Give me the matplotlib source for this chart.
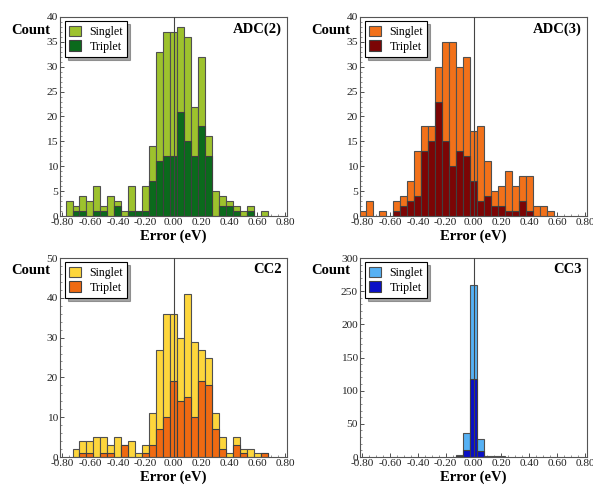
import numpy as np
import matplotlib
matplotlib.use("Agg")
import matplotlib.pyplot as plt
from matplotlib.ticker import MultipleLocator

plt.rcParams['font.family'] = ['Liberation Serif', 'DejaVu Serif']
plt.rcParams['axes.unicode_minus'] = False

# bin centres (eV), width 0.05
bin_centers = np.round(np.arange(-16, 17) * 0.05, 2)
x_ticks = [-0.80, -0.60, -0.40, -0.20, 0.00, 0.20, 0.40, 0.60, 0.80]

adc2_singlet = [0, 3, 2, 4, 3, 6, 2, 4, 3, 1, 6, 1, 6, 14, 33, 37, 37, 38, 36, 22, 32, 16, 5, 4, 3, 2, 1, 2, 0, 1, 0, 0, 0]
adc2_triplet = [0, 0, 1, 1, 0, 1, 1, 0, 2, 0, 1, 1, 1, 7, 11, 12, 12, 21, 15, 12, 18, 12, 0, 2, 2, 1, 0, 1, 0, 0, 0, 0, 0]

adc3_singlet = [1, 3, 0, 1, 0, 3, 4, 7, 13, 18, 18, 30, 35, 35, 30, 32, 17, 18, 11, 5, 6, 9, 6, 8, 8, 2, 2, 1, 0, 0, 0, 0, 0]
adc3_triplet = [0, 0, 0, 0, 0, 1, 2, 3, 4, 13, 15, 23, 15, 10, 13, 12, 7, 3, 4, 2, 2, 1, 1, 3, 1, 0, 0, 0, 0, 0, 0, 0, 0]

cc2_singlet = [0, 0, 2, 4, 4, 5, 5, 3, 5, 3, 4, 1, 3, 11, 27, 36, 36, 30, 41, 29, 27, 25, 11, 5, 1, 5, 2, 2, 1, 1, 0, 0, 0]
cc2_triplet = [0, 0, 0, 1, 1, 0, 1, 1, 0, 3, 0, 0, 1, 3, 7, 10, 19, 14, 15, 10, 19, 18, 7, 2, 0, 3, 1, 0, 0, 1, 0, 0, 0]

cc3_singlet = [0]*14 + [3, 36, 260, 27, 1, 1, 1] + [0]*12
cc3_triplet = [0]*14 + [1, 10, 117, 9, 0, 0, 0] + [0]*12

panels = [
    dict(title="ADC(2)", s=adc2_singlet, t=adc2_triplet, c1="#9dc22d", c2="#0b6a1c",
         ymax=40, ystep=5, rect=[60, 17, 227, 199]),
    dict(title="ADC(3)", s=adc3_singlet, t=adc3_triplet, c1="#f2711a", c2="#7c0505",
         ymax=40, ystep=5, rect=[360, 17, 227, 199]),
    dict(title="CC2", s=cc2_singlet, t=cc2_triplet, c1="#fdd63c", c2="#ef6a12",
         ymax=50, ystep=10, rect=[60, 258, 227, 199]),
    dict(title="CC3", s=cc3_singlet, t=cc3_triplet, c1="#56b1f4", c2="#0a0fc6",
         ymax=300, ystep=50, rect=[360, 258, 227, 199]),
]

W, H = 593, 486
fig = plt.figure(figsize=(W/100, H/100), dpi=100)

for p in panels:
    x0, y0, w, h = p["rect"]
    ax = fig.add_axes([x0/W, 1 - (y0 + h)/H, w/W, h/H])
    s = np.array(p["s"]); t = np.array(p["t"])
    ms = s > 0; mt = t > 0
    ax.bar(bin_centers[ms], s[ms], width=0.05, color=p["c1"], edgecolor="#505050",
           linewidth=0.8, label="Singlet", zorder=2)
    ax.bar(bin_centers[mt], t[mt], width=0.05, color=p["c2"], edgecolor="#404040",
           linewidth=0.8, label="Triplet", zorder=2)
    ax.axvline(0, color="#444444", lw=0.8, zorder=4)
    ax.set_xlim(-0.815, 0.815)
    ax.set_ylim(0, p["ymax"])
    ax.set_xticks(x_ticks)
    ax.set_xticklabels([f"{v:.2f}" for v in x_ticks])
    ax.yaxis.set_major_locator(MultipleLocator(p["ystep"]))
    ax.xaxis.set_minor_locator(MultipleLocator(0.05))
    ax.tick_params(axis="both", which="major", direction="in", length=3, width=0.6,
                   labelsize=8.2, pad=1.5, colors="#333333", labelcolor="#222222")
    ax.tick_params(axis="both", which="minor", direction="in", length=1.5, width=0.5,
                   colors="#666666")
    ax.yaxis.set_minor_locator(MultipleLocator(p["ystep"]/5))
    for sp in ax.spines.values():
        sp.set_linewidth(0.8)
        sp.set_color("#555555")
    ax.text(0.978, 0.94, p["title"], transform=ax.transAxes, ha="right", va="center",
            fontsize=10.5, fontweight="bold")
    leg = ax.legend(loc="upper left", bbox_to_anchor=(0.012, 0.99), fontsize=8.6,
                    frameon=True, fancybox=False, shadow=True, framealpha=1,
                    edgecolor="black", handlelength=1.0, handleheight=1.0,
                    handletextpad=0.7, borderpad=0.35, labelspacing=0.2,
                    borderaxespad=0.2)
    leg.get_frame().set_linewidth(0.8)
    # axis labels
    fig.text((x0 - 10)/W, 1 - (y0 + 13)/H, "Count", ha="right", va="center",
             fontsize=10.5, fontweight="bold")
    fig.text((x0 + w/2)/W, 1 - (y0 + h + 20)/H, "Error (eV)", ha="center", va="center",
             fontsize=10.5, fontweight="bold")

fig.savefig("out.png", dpi=100)
